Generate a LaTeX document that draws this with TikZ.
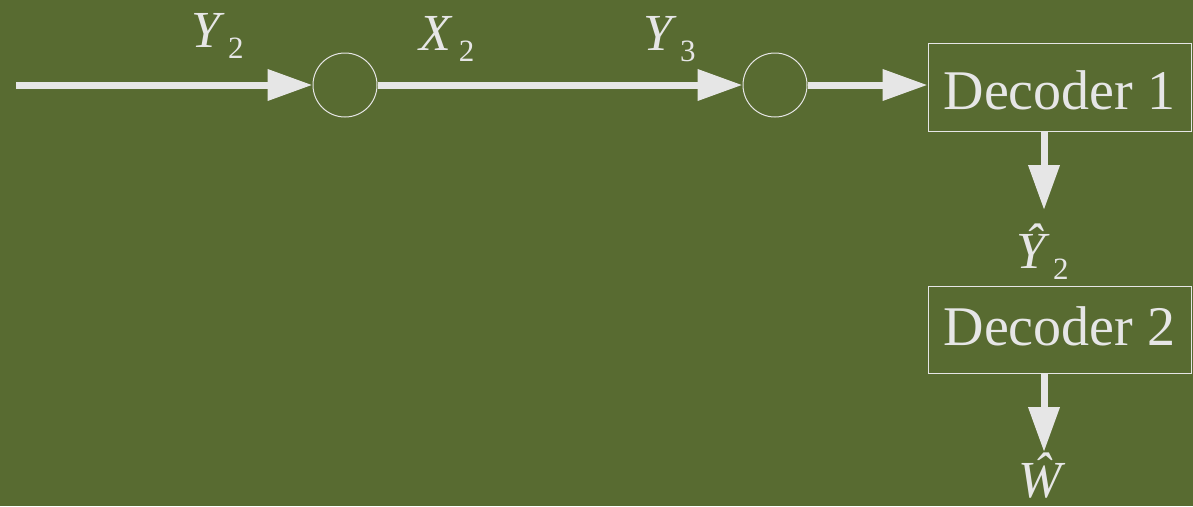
\documentclass[tikz,border=0pt]{standalone}
\usepackage{fontspec}
\setmainfont{Liberation Serif}
\usetikzlibrary{arrows.meta}
\definecolor{bg}{HTML}{586B31}
\definecolor{fg}{HTML}{E6E6E6}
\newcommand{\sublab}[2]{{\itshape #1}\hspace{8pt}\raisebox{-11.5pt}{\fontsize{31}{31}\selectfont #2}}
\begin{document}
\begin{tikzpicture}[x=1pt,y=-1pt,
  arr/.style={draw=fg, line width=7pt, -{Triangle[length=45pt,width=30pt]}},
  circ/.style={circle, draw=fg, line width=1pt, minimum size=64pt, inner sep=0pt},
  box/.style={draw=fg, line width=1pt, minimum width=263pt, minimum height=88pt, inner sep=0pt, text=fg, font=\fontsize{56}{60}\selectfont},
  lab/.style={inner sep=0pt, anchor=base west, text=fg, font=\fontsize{52}{60}\selectfont}]
\fill[bg] (0,0) rectangle (1193,506);
\useasboundingbox (0,0) rectangle (1193,506);
% nodes
\coordinate (s) at (16,85);
\node[circ] (c1) at (345,85) {};
\node[circ] (c2) at (775,85) {};
\node[box, text height=50pt, text depth=6pt] (d1) at (1059.5,87) {Decoder 1};
\node[box, minimum height=87pt, text height=44pt, text depth=13pt] (d2) at (1059.5,329.5) {Decoder 2};
\coordinate (t1) at (1044,210);
\coordinate (t2) at (1044,452);
% labels
\node[lab] (ly2) at (191,47) {\sublab{Y}{2}};
\node[lab] (lx2) at (419,50) {\sublab{X}{2}};
\node[lab] (ly3) at (643,50) {\sublab{Y}{3}};
\node[lab] (lyh) at (1016,268) {\sublab{Ŷ}{2}};
\node[lab, text depth=0pt] (lwh) at (1018,497) {\itshape Ŵ};
% connectors
\draw[arr] (s) -- (c1.west);
\draw[arr] (c1.east) -- (c2.west);
\draw[arr] (c2.east) -- (d1.west |- c2.east);
\draw[arr] (d1.south -| t1) -- (t1);
\draw[arr] (d2.south -| t2) -- (t2);
\end{tikzpicture}
\end{document}
